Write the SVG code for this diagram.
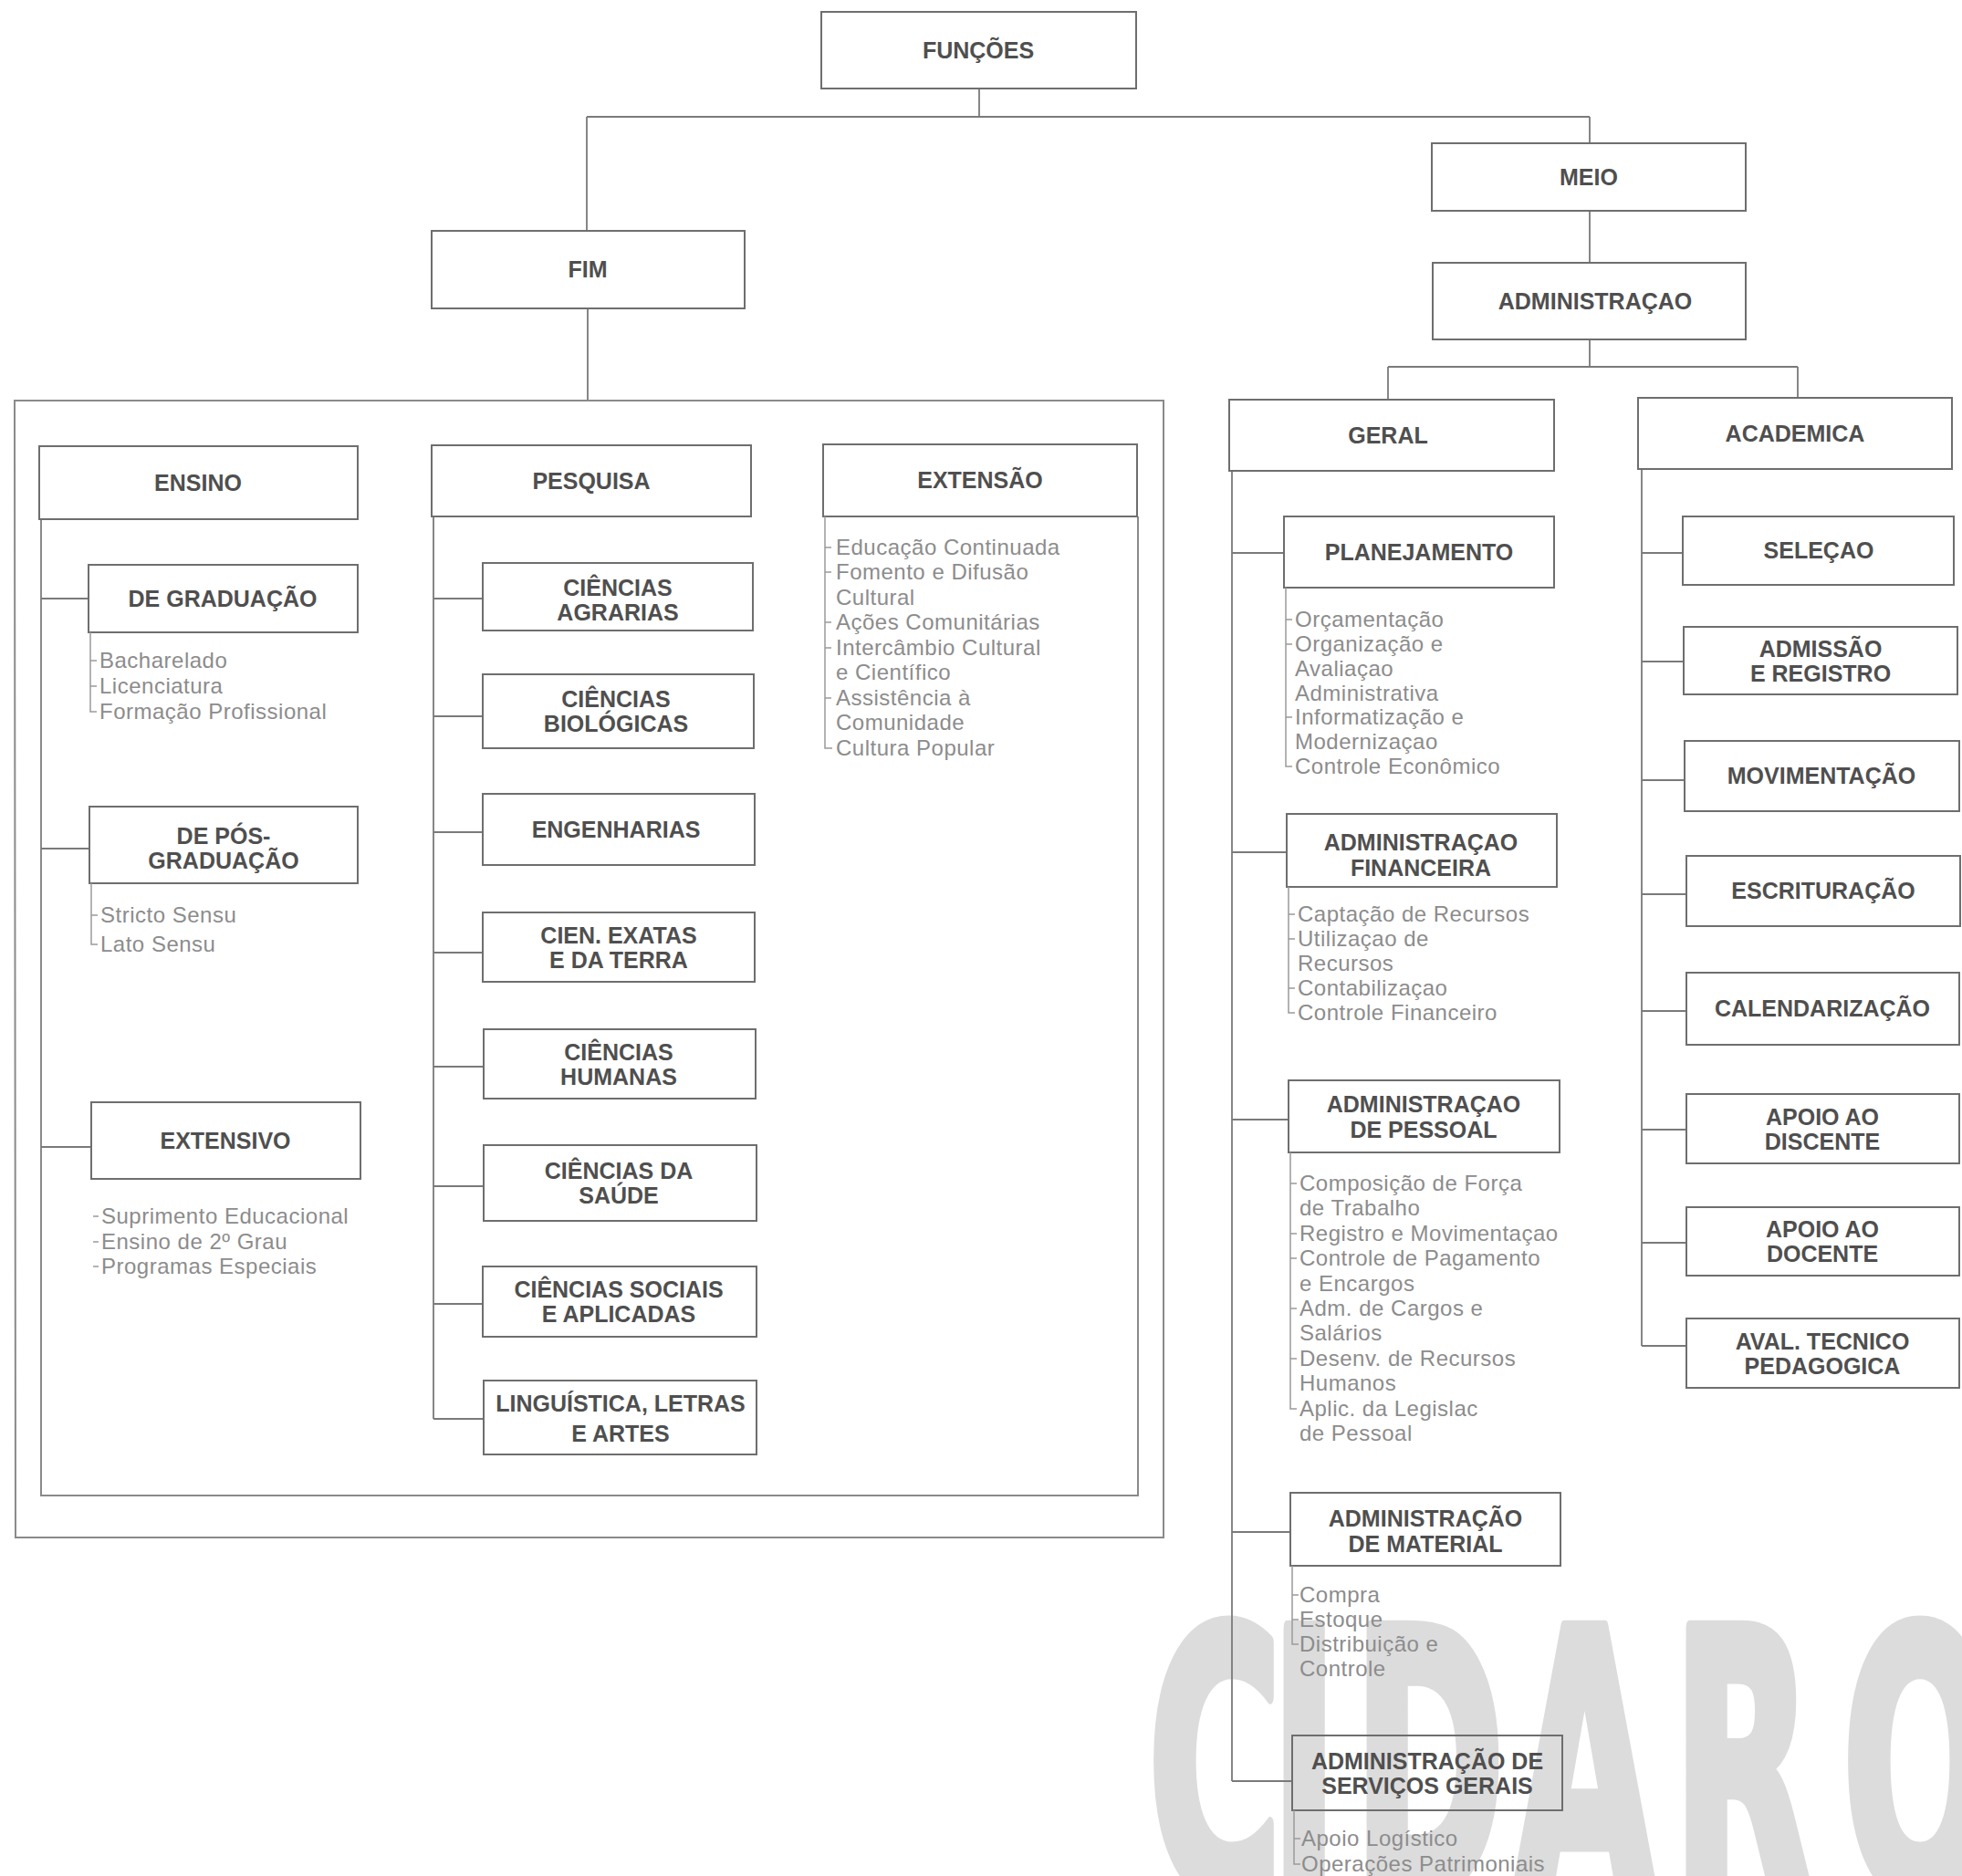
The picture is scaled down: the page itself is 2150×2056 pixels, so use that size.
<svg xmlns="http://www.w3.org/2000/svg" width="2150" height="2056" viewBox="0 0 2150 2056">
<style>
.bg{fill:#ffffff}
.box{fill:none;stroke:#6e6e6e;stroke-width:2}
.frame{fill:none;stroke:#8a8a8a;stroke-width:2}
.conn{fill:none;stroke:#7a7a7a;stroke-width:1.8}
.tick{fill:none;stroke:#9a9a9a;stroke-width:1.5}
.h{font-family:"Liberation Sans",Arial,sans-serif;font-size:25px;font-weight:bold;fill:#4f4f4f;text-anchor:middle}
.it{font-family:"Liberation Sans",Arial,sans-serif;font-size:24px;fill:#8c8c8c;letter-spacing:0.5px}
.wm{font-family:"DejaVu Sans","Liberation Sans",sans-serif;font-size:400px;font-weight:bold;fill:#dcdcdc;stroke:#dcdcdc;stroke-width:12px;stroke-linejoin:round}
</style>
<rect class="bg" x="0" y="0" width="2150" height="2056"/>

<g id="watermark">
<text class="wm" vector-effect="non-scaling-stroke" transform="scale(0.5 1)" x="2516 2784 2966 3318 3666 4038" y="2075">CIDARQ</text>
</g>

<g id="connectors">
<path class="conn" d="M1073,97V128M643,128H1742M643,128V253M1742,128V157M1742,231V288M1742,372V402M1521,402H1970M1521,402V438M1970,402V436M644,338V439"/>
<path class="frame" d="M16,439H1275V1685H17Z"/>
<path class="frame" d="M45,569V1639H1247V566"/>
<path class="conn" d="M45,656H97M45,930H98M45,1257H100"/>
<path class="conn" d="M475,566V1555M475,656H529M475,785H529M475,912H529M475,1044H529M475,1169H529M475,1300H529M475,1429H529M475,1555H529"/>
<path class="conn" d="M1350,516V1952M1350,606H1407M1350,934H1410M1350,1227H1412M1350,1679H1414M1350,1952H1416"/>
<path class="conn" d="M1799,514V1475M1799,606H1844M1799,725H1845M1799,855H1846M1799,980H1848M1799,1108H1848M1799,1238H1848M1799,1362H1848M1799,1475H1848"/>
</g>

<g id="n-funcoes"><rect class="box" x="900" y="13" width="345" height="84"/><text class="h" x="1072" y="64">FUNÇÕES</text></g>
<g id="n-fim"><rect class="box" x="473" y="253" width="343" height="85"/><text class="h" x="644" y="304">FIM</text></g>
<g id="n-meio"><rect class="box" x="1569" y="157" width="344" height="74"/><text class="h" x="1741" y="203">MEIO</text></g>
<g id="n-administracao"><rect class="box" x="1570" y="288" width="343" height="84"/><text class="h" x="1748" y="339">ADMINISTRAÇAO</text></g>

<g id="n-ensino"><rect class="box" x="43" y="489" width="349" height="80"/><text class="h" x="217" y="538">ENSINO</text></g>
<g id="n-pesquisa"><rect class="box" x="473" y="488" width="350" height="78"/><text class="h" x="648" y="536">PESQUISA</text></g>
<g id="n-extensao"><rect class="box" x="902" y="487" width="344" height="79"/><text class="h" x="1074" y="535">EXTENSÃO</text>
<path class="tick" d="M904,566V820H912M904,600H911M904,627H911M904,682H911M904,710H911M904,765H911"/>
<text class="it" x="916"><tspan x="916" y="608">Educação Continuada</tspan><tspan x="916" y="635">Fomento e Difusão</tspan><tspan x="916" y="663">Cultural</tspan><tspan x="916" y="690">Ações Comunitárias</tspan><tspan x="916" y="718">Intercâmbio Cultural</tspan><tspan x="916" y="745">e Científico</tspan><tspan x="916" y="773">Assistência à</tspan><tspan x="916" y="800">Comunidade</tspan><tspan x="916" y="828">Cultura Popular</tspan></text>
</g>

<g id="n-graduacao"><rect class="box" x="97" y="619" width="295" height="74"/><text class="h" x="244" y="665">DE GRADUAÇÃO</text>
<path class="tick" d="M99,693V780H106M99,724H106M99,752H106"/>
<text class="it"><tspan x="109" y="732">Bacharelado</tspan><tspan x="109" y="760">Licenciatura</tspan><tspan x="109" y="788">Formação Profissional</tspan></text>
</g>
<g id="n-posgraduacao"><rect class="box" x="98" y="884" width="294" height="84"/><text class="h"><tspan x="245" y="925">DE PÓS-</tspan><tspan x="245" y="952">GRADUAÇÃO</tspan></text>
<path class="tick" d="M100,968V1035H107M100,1003H107"/>
<text class="it"><tspan x="110" y="1011">Stricto Sensu</tspan><tspan x="110" y="1043">Lato Sensu</tspan></text>
</g>
<g id="n-extensivo"><rect class="box" x="100" y="1208" width="295" height="84"/><text class="h" x="247" y="1259">EXTENSIVO</text>
<path class="tick" d="M102,1333H108M102,1361H108M102,1388H108"/>
<text class="it"><tspan x="111" y="1341">Suprimento Educacional</tspan><tspan x="111" y="1369">Ensino de 2º Grau</tspan><tspan x="111" y="1396">Programas Especiais</tspan></text>
</g>

<g id="n-agrarias"><rect class="box" x="529" y="617" width="296" height="74"/><text class="h"><tspan x="677" y="653">CIÊNCIAS</tspan><tspan x="677" y="680">AGRARIAS</tspan></text></g>
<g id="n-biologicas"><rect class="box" x="529" y="739" width="297" height="81"/><text class="h"><tspan x="675" y="775">CIÊNCIAS</tspan><tspan x="675" y="802">BIOLÓGICAS</tspan></text></g>
<g id="n-engenharias"><rect class="box" x="529" y="870" width="298" height="78"/><text class="h" x="675" y="918">ENGENHARIAS</text></g>
<g id="n-exatas"><rect class="box" x="529" y="1000" width="298" height="76"/><text class="h"><tspan x="678" y="1034">CIEN. EXATAS</tspan><tspan x="678" y="1061">E DA TERRA</tspan></text></g>
<g id="n-humanas"><rect class="box" x="530" y="1128" width="298" height="76"/><text class="h"><tspan x="678" y="1162">CIÊNCIAS</tspan><tspan x="678" y="1189">HUMANAS</tspan></text></g>
<g id="n-saude"><rect class="box" x="530" y="1255" width="299" height="83"/><text class="h"><tspan x="678" y="1292">CIÊNCIAS DA</tspan><tspan x="678" y="1319">SAÚDE</tspan></text></g>
<g id="n-sociais"><rect class="box" x="529" y="1388" width="300" height="77"/><text class="h"><tspan x="678" y="1422">CIÊNCIAS SOCIAIS</tspan><tspan x="678" y="1449">E APLICADAS</tspan></text></g>
<g id="n-linguistica"><rect class="box" x="530" y="1513" width="299" height="81"/><text class="h"><tspan x="680" y="1547">LINGUÍSTICA, LETRAS</tspan><tspan x="680" y="1580">E ARTES</tspan></text></g>

<g id="n-geral"><rect class="box" x="1347" y="438" width="356" height="78"/><text class="h" x="1521" y="486">GERAL</text></g>
<g id="n-academica"><rect class="box" x="1795" y="436" width="344" height="78"/><text class="h" x="1967" y="484">ACADEMICA</text></g>

<g id="n-planejamento"><rect class="box" x="1407" y="566" width="296" height="78"/><text class="h" x="1555" y="614">PLANEJAMENTO</text>
<path class="tick" d="M1409,644V840H1416M1409,679H1416M1409,706H1416M1409,786H1416"/>
<text class="it"><tspan x="1419" y="687">Orçamentação</tspan><tspan x="1419" y="714">Organização e</tspan><tspan x="1419" y="741">Avaliaçao</tspan><tspan x="1419" y="768">Administrativa</tspan><tspan x="1419" y="794">Informatização e</tspan><tspan x="1419" y="821">Modernizaçao</tspan><tspan x="1419" y="848">Controle Econômico</tspan></text>
</g>
<g id="n-financeira"><rect class="box" x="1410" y="892" width="296" height="80"/><text class="h"><tspan x="1557" y="932">ADMINISTRAÇAO</tspan><tspan x="1557" y="960">FINANCEIRA</tspan></text>
<path class="tick" d="M1412,972V1110H1419M1412,1002H1419M1412,1029H1419M1412,1083H1419"/>
<text class="it"><tspan x="1422" y="1010">Captação de Recursos</tspan><tspan x="1422" y="1037">Utilizaçao de</tspan><tspan x="1422" y="1064">Recursos</tspan><tspan x="1422" y="1091">Contabilizaçao</tspan><tspan x="1422" y="1118">Controle Financeiro</tspan></text>
</g>
<g id="n-pessoal"><rect class="box" x="1412" y="1184" width="297" height="79"/><text class="h"><tspan x="1560" y="1219">ADMINISTRAÇAO</tspan><tspan x="1560" y="1247">DE PESSOAL</tspan></text>
<path class="tick" d="M1414,1263V1544H1421M1414,1297H1421M1414,1352H1421M1414,1379H1421M1414,1434H1421M1414,1489H1421"/>
<text class="it"><tspan x="1424" y="1305">Composição de Força</tspan><tspan x="1424" y="1332">de Trabalho</tspan><tspan x="1424" y="1360">Registro e Movimentaçao</tspan><tspan x="1424" y="1387">Controle de Pagamento</tspan><tspan x="1424" y="1415">e Encargos</tspan><tspan x="1424" y="1442">Adm. de Cargos e</tspan><tspan x="1424" y="1469">Salários</tspan><tspan x="1424" y="1497">Desenv. de Recursos</tspan><tspan x="1424" y="1524">Humanos</tspan><tspan x="1424" y="1552">Aplic. da Legislac</tspan><tspan x="1424" y="1579">de Pessoal</tspan></text>
</g>
<g id="n-material"><rect class="box" x="1414" y="1636" width="296" height="80"/><text class="h"><tspan x="1562" y="1673">ADMINISTRAÇÃO</tspan><tspan x="1562" y="1701">DE MATERIAL</tspan></text>
<path class="tick" d="M1416,1716V1802H1423M1416,1748H1423M1416,1775H1423"/>
<text class="it"><tspan x="1424" y="1756">Compra</tspan><tspan x="1424" y="1783">Estoque</tspan><tspan x="1424" y="1810">Distribuição e</tspan><tspan x="1424" y="1837">Controle</tspan></text>
</g>
<g id="n-servicos"><rect class="box" x="1416" y="1902" width="296" height="82"/><text class="h"><tspan x="1564" y="1939">ADMINISTRAÇÃO DE</tspan><tspan x="1564" y="1966">SERVIÇOS GERAIS</tspan></text>
<path class="tick" d="M1418,1984V2043H1425M1418,2015H1425"/>
<text class="it"><tspan x="1426" y="2023">Apoio Logístico</tspan><tspan x="1426" y="2051">Operações Patrimoniais</tspan></text>
</g>

<g id="n-selecao"><rect class="box" x="1844" y="566" width="297" height="75"/><text class="h" x="1993" y="612">SELEÇAO</text></g>
<g id="n-admissao"><rect class="box" x="1845" y="687" width="300" height="74"/><text class="h"><tspan x="1995" y="720">ADMISSÃO</tspan><tspan x="1995" y="747">E REGISTRO</tspan></text></g>
<g id="n-movimentacao"><rect class="box" x="1846" y="812" width="301" height="77"/><text class="h" x="1996" y="859">MOVIMENTAÇÃO</text></g>
<g id="n-escrituracao"><rect class="box" x="1848" y="938" width="300" height="77"/><text class="h" x="1998" y="985">ESCRITURAÇÃO</text></g>
<g id="n-calendarizacao"><rect class="box" x="1848" y="1066" width="299" height="79"/><text class="h" x="1997" y="1114">CALENDARIZAÇÃO</text></g>
<g id="n-discente"><rect class="box" x="1848" y="1199" width="299" height="76"/><text class="h"><tspan x="1997" y="1233">APOIO AO</tspan><tspan x="1997" y="1260">DISCENTE</tspan></text></g>
<g id="n-docente"><rect class="box" x="1848" y="1323" width="299" height="75"/><text class="h"><tspan x="1997" y="1356">APOIO AO</tspan><tspan x="1997" y="1383">DOCENTE</tspan></text></g>
<g id="n-aval"><rect class="box" x="1848" y="1445" width="299" height="76"/><text class="h"><tspan x="1997" y="1479">AVAL. TECNICO</tspan><tspan x="1997" y="1506">PEDAGOGICA</tspan></text></g>
</svg>
